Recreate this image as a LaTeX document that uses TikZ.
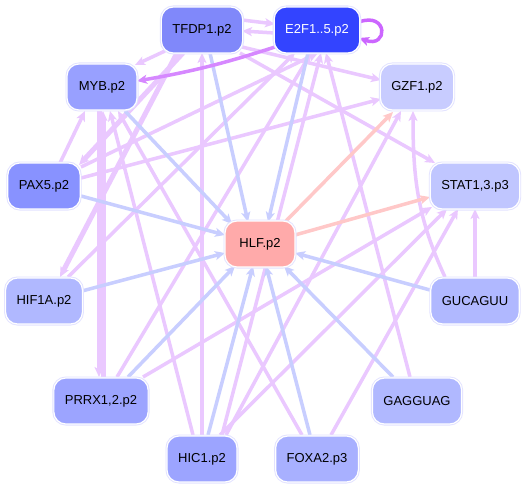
\documentclass[tikz,border=0pt]{standalone}
\usepackage{fontspec}
\setmainfont{Liberation Sans}
\usetikzlibrary{arrows.meta}
\pgfdeclarelayer{bg}
\pgfdeclarelayer{paper}
\pgfsetlayers{paper,bg,main}
\definecolor{vio}{RGB}{234,200,255}
\definecolor{blu}{RGB}{200,206,255}
\definecolor{sal}{RGB}{255,200,200}
\definecolor{strong}{RGB}{204,102,255}
\definecolor{strongb}{RGB}{214,136,255}
\definecolor{rim}{RGB}{226,226,255}
\definecolor{cTFDP}{RGB}{128,136,250}
\definecolor{cE2F}{RGB}{51,68,255}
\definecolor{cMYB}{RGB}{152,160,255}
\definecolor{cPAX}{RGB}{136,146,255}
\definecolor{cGZF}{RGB}{200,204,255}
\definecolor{cSTAT}{RGB}{192,198,255}
\definecolor{cHLF}{RGB}{255,170,170}
\definecolor{cHIF}{RGB}{176,184,255}
\definecolor{cPRRX}{RGB}{156,164,255}
\definecolor{cHIC}{RGB}{156,164,255}
\definecolor{cFOXA}{RGB}{168,176,255}
\definecolor{cSEED}{RGB}{176,184,255}
\tikzset{
  box/.style={rounded corners=12pt, minimum width=70pt, minimum height=46pt,
    inner xsep=11pt, draw=white, line width=1.2pt,
    preaction={draw=rim, line width=3pt},
    font=\fontsize{13}{15}\selectfont, text=black},
  tip/.style={-{Stealth[length=10pt,width=9pt,inset=2.5pt]}},
  ev/.style={tip, draw=vio, line width=3.5pt},
  evt/.style={tip, draw=vio, line width=5pt},
  eb/.style={tip, draw=blu, line width=3.5pt},
  es/.style={tip, draw=sal, line width=3.5pt},
  est/.style={tip, draw=strong, line width=3.5pt},
}
\begin{document}
\begin{tikzpicture}[x=1pt,y=-1pt]
\begin{pgfonlayer}{paper}
\fill[white] (0,0) rectangle (526,489);
\end{pgfonlayer}
\useasboundingbox (0,0) rectangle (526,489);
\node[box, fill=cTFDP] (tfdp) at (202,30) {TFDP1.p2};
\node[box, fill=cE2F, text=white] (e2f) at (317,30) {E2F1..5.p2};
\node[box, fill=cMYB] (myb) at (102,87) {MYB.p2};
\node[box, fill=cPAX] (pax) at (44,186) {PAX5.p2};
\node[box, fill=cGZF] (gzf) at (417,87) {GZF1.p2};
\node[box, fill=cSTAT] (stat) at (475,186) {STAT1,3.p3};
\node[box, fill=cHLF] (hlf) at (260,244) {HLF.p2};
\node[box, fill=cHIF] (hif) at (44,301) {HIF1A.p2};
\node[box, fill=cPRRX] (prrx) at (101,401) {PRRX1,2.p2};
\node[box, fill=cHIC] (hic) at (202,459) {HIC1.p2};
\node[box, fill=cFOXA] (foxa) at (317,459) {FOXA2.p3};
\node[box, fill=cSEED] (gag) at (417,401) {GAGGUAG};
\node[box, fill=cSEED] (guc) at (475,301) {GUCAGUU};
\begin{pgfonlayer}{bg}
% violet edges
\draw[ev] ([shift={(40,-10)}]tfdp.center) -- ([shift={(-42,-6)}]e2f.center);
\draw[ev] ([shift={(-42,3)}]e2f.center) -- ([shift={(40,1)}]tfdp.center);
\draw[ev] ([shift={(-37,21)}]tfdp.center) -- ([shift={(33,-22)}]myb.center);
\draw[ev] ([shift={(40,17)}]tfdp.center) -- ([shift={(-36,-7)}]gzf.center);
\draw[ev] ([shift={(38,23)}]tfdp.center) -- ([shift={(-40,-23)}]stat.center);
\draw[ev] ([shift={(16,-23)}]pax.center) -- ([shift={(-17,24)}]myb.center);
\draw[ev] ([shift={(37,-8)}]pax.center) -- ([shift={(-36,12)}]gzf.center);
\draw[ev] ([shift={(37,-19)}]pax.center) -- ([shift={(1,23)}]e2f.center);
\draw[evt] ([shift={(-3,24)}]myb.center) -- ([shift={(-2,-24)}]prrx.center);
\draw[evt] ([shift={(2,-24)}]prrx.center) -- ([shift={(1,24)}]myb.center);
\draw[ev] ([shift={(-9,-24)}]hic.center) -- ([shift={(8,24)}]myb.center);
\draw[ev] ([shift={(-15,-24)}]foxa.center) -- ([shift={(16,24)}]myb.center);
\draw[ev] ([shift={(0,-24)}]hic.center) -- ([shift={(0,23)}]tfdp.center);
\draw[ev] ([shift={(24,-24)}]hic.center) -- ([shift={(-16,24)}]gzf.center);
\draw[ev] ([shift={(18,-24)}]hic.center) -- ([shift={(-28,23)}]stat.center);
\draw[ev] ([shift={(14,-24)}]foxa.center) -- ([shift={(-17,23)}]stat.center);
\draw[ev] ([shift={(42,-24)}]prrx.center) -- ([shift={(-43,21)}]stat.center);
\draw[ev] ([shift={(-7,-24)}]gag.center) -- ([shift={(9,23)}]e2f.center);
\draw[ev] ([shift={(-30,-24)}]guc.center) to[out=115,in=-90] ([shift={(-4,24)}]gzf.center);
\draw[ev] ([shift={(0,-24)}]guc.center) -- ([shift={(0,23)}]stat.center);
\draw[evt] ([shift={(-19,23)}]tfdp.center) -- ([shift={(35,-21)}]pax.center);
\draw[evt] ([shift={(-25,23)}]tfdp.center) -- ([shift={(16,-24)}]hif.center);
\draw[ev] ([shift={(24,-24)}]hif.center) -- ([shift={(-22,23)}]e2f.center);
\draw[ev] ([shift={(20,-24)}]hic.center) -- ([shift={(4,23)}]e2f.center);
\draw[ev] ([shift={(16,-24)}]prrx.center) -- ([shift={(-6,23)}]e2f.center);
% blue edges into HLF
\draw[eb] ([shift={(8,23)}]tfdp.center) -- ([shift={(-12,-22)}]hlf.center);
\draw[eb] ([shift={(-9,23)}]e2f.center) -- ([shift={(8,-22)}]hlf.center);
\draw[eb] ([shift={(23,24)}]myb.center) -- ([shift={(-28,-20)}]hlf.center);
\draw[eb] ([shift={(37,10)}]pax.center) -- ([shift={(-35,-9)}]hlf.center);
\draw[eb] ([shift={(38,-10)}]hif.center) -- ([shift={(-35,9)}]hlf.center);
\draw[eb] ([shift={(27,-24)}]prrx.center) -- ([shift={(-25,22)}]hlf.center);
\draw[eb] ([shift={(6,-24)}]hic.center) -- ([shift={(-7,22)}]hlf.center);
\draw[eb] ([shift={(-7,-24)}]foxa.center) -- ([shift={(6,22)}]hlf.center);
\draw[eb] ([shift={(-24,-24)}]gag.center) -- ([shift={(24,22)}]hlf.center);
\draw[eb] ([shift={(-45,-11)}]guc.center) -- ([shift={(35,9)}]hlf.center);
% salmon edges from HLF
\draw[es] ([shift={(25,-22)}]hlf.center) -- ([shift={(-24,25)}]gzf.center);
\draw[es] ([shift={(35,-9)}]hlf.center) -- ([shift={(-45,11)}]stat.center);
% strong edges
\draw[tip, draw=strongb, line width=3.5pt] ([shift={(-42,17)}]e2f.center) to[bend left=4] ([shift={(35,-6)}]myb.center);
\draw[est] ([shift={(42,-8)}]e2f.center) to[out=20,in=-20,looseness=5] ([shift={(42,8)}]e2f.center);
\end{pgfonlayer}
\end{tikzpicture}
\end{document}
